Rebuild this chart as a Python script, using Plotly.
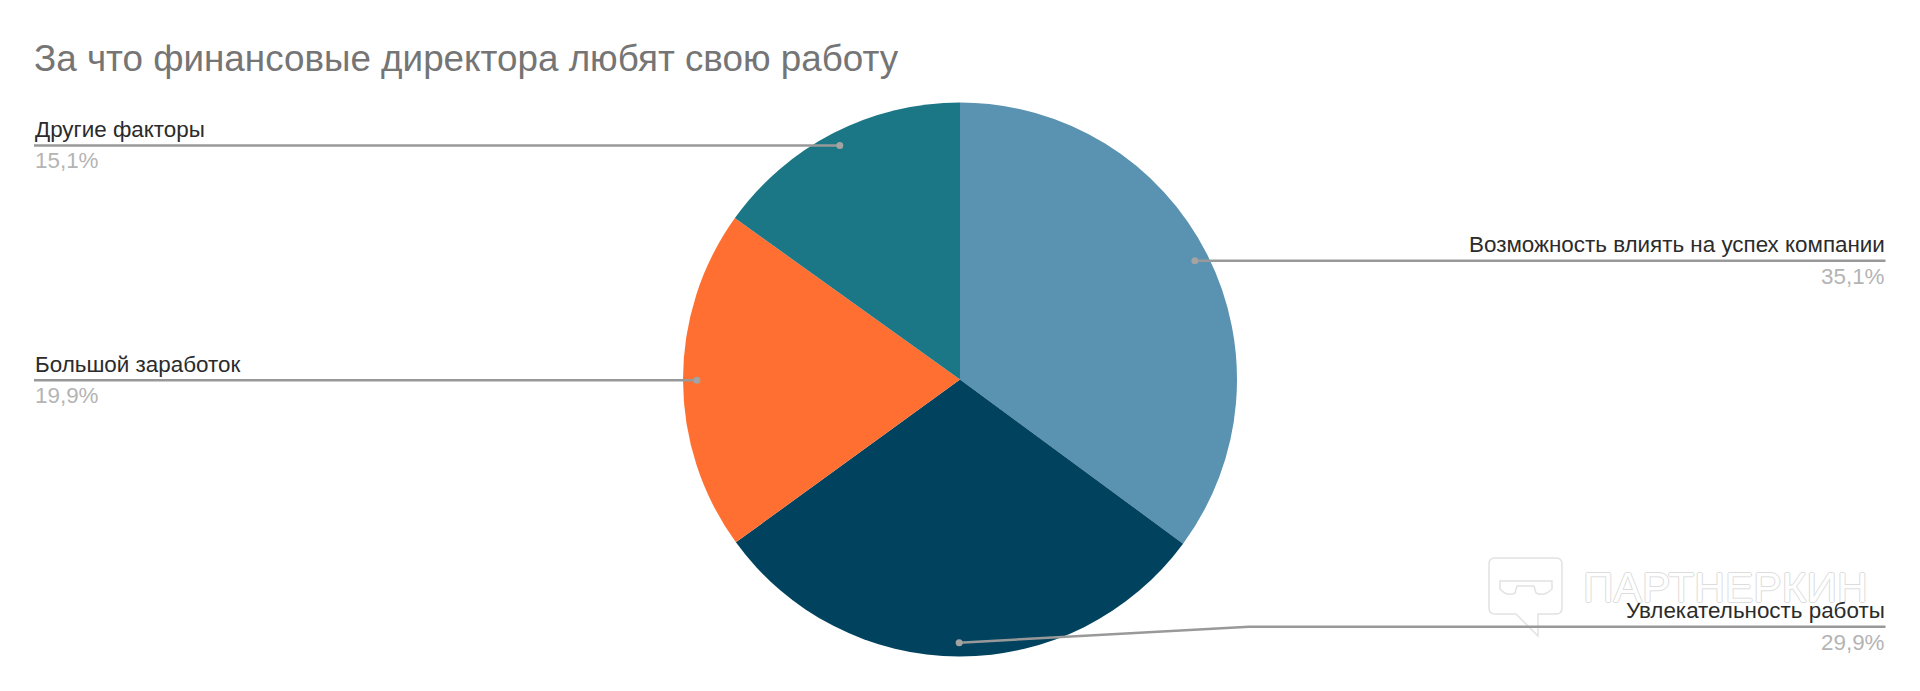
import math
import plotly.graph_objects as go

categories = ["Возможность влиять на успех компании", "Увлекательность работы", "Большой заработок", "Другие факторы"]
values = [35.1, 29.9, 19.9, 15.1]
value_labels = ["35,1%", "29,9%", "19,9%", "15,1%"]
colors = ["#5a92b1", "#01435f", "#ff6f31", "#1b7685"]
title_text = "За что финансовые директора любят свою работу"
watermark_text = "ПАРТНЕРКИН"

W, H = 1920, 691
OFF = 8  # the page body margin
CX, CY, R = 960.0, 379.5, 277.0
LEFT, RIGHT = 34.0, 1885.5
LINE = "#999999"
WM = "#e2e2e2"
FONT = "Liberation Sans, Arial, sans-serif"


def px(x):
    return (x - OFF) / W


def py(y):
    return 1 - (y - OFF) / H


fig = go.Figure(go.Pie(
    labels=categories, values=values, sort=False, direction="clockwise", rotation=0,
    marker=dict(colors=colors, line=dict(width=0)), textinfo="none", hoverinfo="skip",
    showlegend=False, domain=dict(x=[px(CX - R), px(CX + R)], y=[py(CY + R), py(CY - R)]),
))

shapes, annotations = [], []


def seg(x0, y0, x1, y1):
    shapes.append(dict(type="line", xref="paper", yref="paper", x0=px(x0), y0=py(y0), x1=px(x1), y1=py(y1),
                       line=dict(color=LINE, width=2.5)))


def label(x, y, text, anchor, color, size):
    annotations.append(dict(text=text, x=px(x), y=py(y), xref="paper", yref="paper", xanchor=anchor,
                            yanchor="middle", showarrow=False, align=anchor, borderpad=0,
                            font=dict(family=FONT, size=size, color=color)))


total = sum(values)
cum = 0.0
for name, v, vl in zip(categories, values, value_labels):
    a = 2 * math.pi * (cum + v / 2) / total
    cum += v
    dx, dy = CX + 0.95 * R * math.sin(a), CY - 0.95 * R * math.cos(a)
    right_side = math.sin(a) > -0.05
    end = RIGHT if right_side else LEFT
    ly = dy
    if abs(math.sin(a)) < 0.05 and math.cos(a) < 0:
        ly = dy - 16
        seg(dx, dy, 1249, ly)
        seg(1249, ly, end, ly)
    else:
        seg(dx, dy, end, ly)
    shapes.append(dict(type="circle", xref="paper", yref="paper", x0=px(dx - 3.5), x1=px(dx + 3.5),
                       y0=py(dy + 3.5), y1=py(dy - 3.5), fillcolor="#a3a3a3", line=dict(width=0)))
    anchor = "right" if right_side else "left"
    label(end, ly - 16, name, anchor, "#2b2b2b", 22.4)
    label(end, ly + 15.5, vl, anchor, "#b4b4b4", 22.4)


# watermark logo: speech bubble with glasses (outline only)
def P(x, y):
    return f"{px(x):.5f} {py(y):.5f}"


bubble = ("M" + P(1495, 558) + " L" + P(1556, 558) + " Q" + P(1562, 558) + " " + P(1562, 564) +
          " L" + P(1562, 608) + " Q" + P(1562, 614) + " " + P(1556, 614) + " L" + P(1538, 614) +
          " L" + P(1538, 636) + " L" + P(1516, 614) + " L" + P(1495, 614) + " Q" + P(1489, 614) +
          " " + P(1489, 608) + " L" + P(1489, 564) + " Q" + P(1489, 558) + " " + P(1495, 558) + " Z")
glasses = ("M" + P(1500, 581) + " L" + P(1552, 581) + " L" + P(1552, 589) + " Q" + P(1544, 597) + " " + P(1536, 593) +
           " L" + P(1534, 586) + " L" + P(1517, 586) + " L" + P(1515, 593) + " Q" + P(1507, 597) + " " + P(1500, 589) + " Z")
for p in (bubble, glasses):
    shapes.insert(0, dict(type="path", xref="paper", yref="paper", path=p, line=dict(color=WM, width=1.5),
                          fillcolor="rgba(0,0,0,0)", layer="below"))
annotations.insert(0, dict(text=watermark_text, x=px(1725), y=py(587), xref="paper", yref="paper", xanchor="center",
                           yanchor="middle", showarrow=False,
                           font=dict(family=FONT, size=42.5, color="#ffffff",
                                     shadow="1px 0 0 #dcdcdc, -1px 0 0 #dcdcdc, 0 1px 0 #dcdcdc, 0 -1px 0 #dcdcdc")))

fig.update_layout(
    width=W, height=H, margin=dict(l=0, r=0, t=0, b=0), paper_bgcolor="#ffffff", plot_bgcolor="#ffffff",
    title=dict(text=title_text, x=px(34), xanchor="left", xref="paper", y=py(58.5), yanchor="middle", yref="paper",
               font=dict(family=FONT, size=36.8, color="#757575"), pad=dict(l=0, r=0, t=0, b=0)),
    shapes=shapes, annotations=annotations,
)
fig.write_html("out.html", config=dict(displayModeBar=False))
